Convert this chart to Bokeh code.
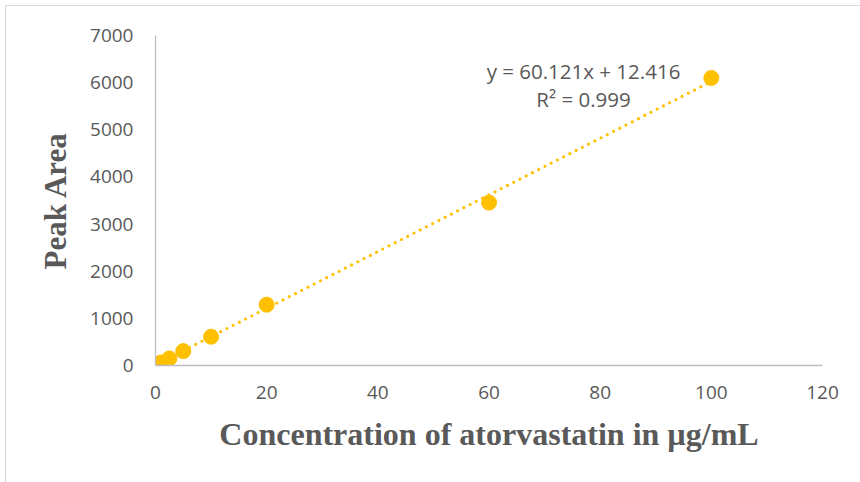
from bokeh.plotting import figure
from bokeh.models import FixedTicker, Label, ColumnDataSource
from bokeh.embed import file_html
from bokeh.resources import INLINE

# Data
conc = [0.5, 1, 2.5, 5, 10, 20, 60, 100]
area = [30, 65, 150, 305, 610, 1290, 3455, 6100]
slope = 60.121
intercept = 12.416
r2 = 0.999
x_ticks = [0, 20, 40, 60, 80, 100, 120]
y_ticks = [0, 1000, 2000, 3000, 4000, 5000, 6000, 7000]
x_title = "Concentration of atorvastatin in µg/mL"
y_title = "Peak Area"

GOLD = "#FFC000"
GREY = "#595959"

p = figure(width=855, height=477, x_range=(0, 120), y_range=(0, 7000),
           output_backend="svg", toolbar_location=None,
           min_border_left=149, min_border_right=39, min_border_top=29, min_border_bottom=118)
p.margin = (5, 0, 0, 5)
p.styles = {"border-left": "1px solid #d9d9d9", "border-top": "1px solid #d9d9d9"}
p.outline_line_color = None
p.xgrid.grid_line_color = None
p.ygrid.grid_line_color = None

# trendline from the fitted equation over the data range
tx = [min(conc), max(conc)]
ty = [slope * v + intercept for v in tx]
p.line(tx, ty, line_color=GOLD, line_width=3.2, line_dash="0 7", line_cap="round")

src = ColumnDataSource(dict(x=conc, y=area))
p.scatter("x", "y", source=src, size=15, fill_color=GOLD, line_color=GOLD)

for ax in (p.xaxis[0], p.yaxis[0]):
    ax.axis_line_color = "#BFBFBF"
    ax.axis_line_width = 1.3
    ax.major_tick_line_color = None
    ax.minor_tick_line_color = None
    ax.major_tick_out = 0
    ax.major_tick_in = 0
    ax.major_label_text_font = "Open Sans"
    ax.major_label_text_font_size = "19px"
    ax.major_label_text_color = GREY
    ax.axis_label_text_font = "Liberation Serif"
    ax.axis_label_text_font_style = "bold"
    ax.axis_label_text_color = GREY

p.xaxis[0].ticker = FixedTicker(ticks=x_ticks)
p.yaxis[0].ticker = FixedTicker(ticks=y_ticks)
p.xaxis[0].axis_label = x_title
p.yaxis[0].axis_label = y_title
p.xaxis[0].axis_label_text_font_size = "32px"
p.yaxis[0].axis_label_text_font_size = "31px"
p.xaxis[0].major_label_standoff = 20
p.yaxis[0].major_label_standoff = 22
p.xaxis[0].axis_label_standoff = 14
p.yaxis[0].axis_label_standoff = 14

eq1 = "y = %.3fx + %.3f" % (slope, intercept)
eq2 = "R² = %.3f" % r2
p.add_layout(Label(x=77.0, y=6250, text=eq1, text_align="center", text_baseline="middle",
                   text_font="Open Sans", text_font_size="20.5px", text_color=GREY))
p.add_layout(Label(x=77.0, y=5660, text=eq2, text_align="center", text_baseline="middle",
                   text_font="Open Sans", text_font_size="20.5px", text_color=GREY))

open("out.html", "w").write(file_html(p, INLINE))
